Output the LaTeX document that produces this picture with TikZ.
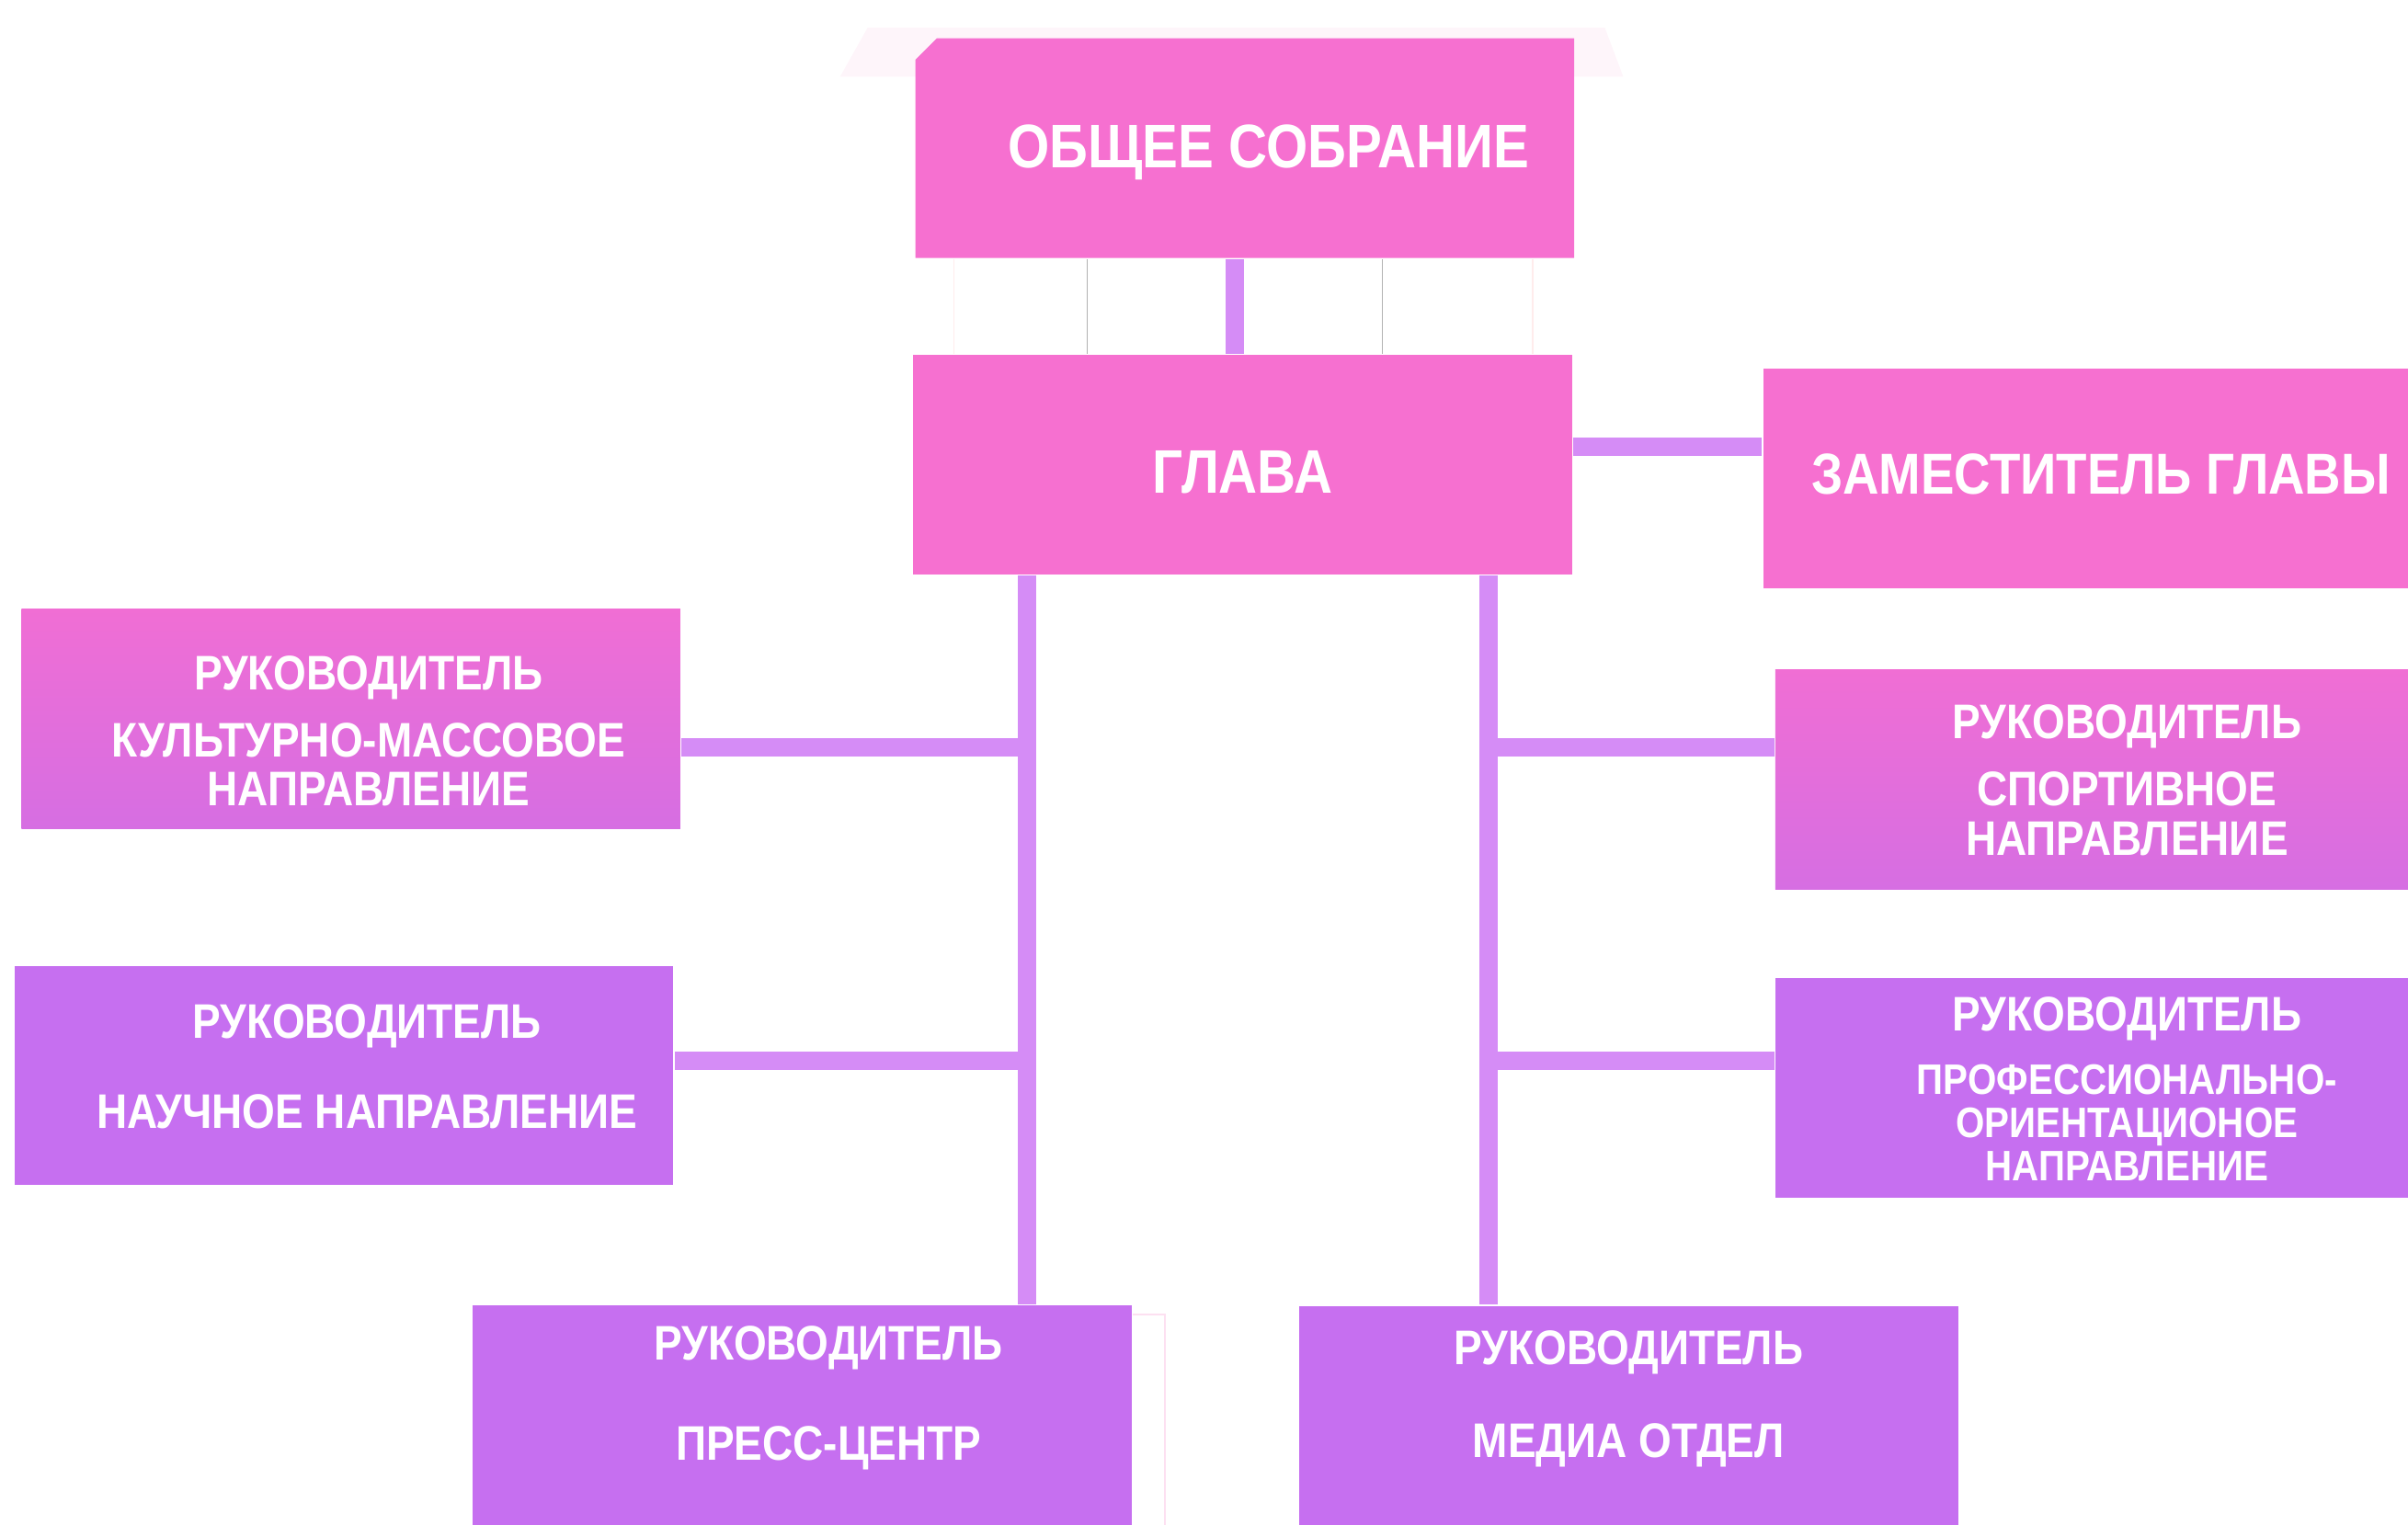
\documentclass[tikz,border=0pt]{standalone}
\usepackage{fontspec}
\setmainfont{Liberation Sans}[FakeStretch=0.87]
\usepackage{tikz}
\usetikzlibrary{shapes.misc}
\definecolor{rosa}{RGB}{246,112,208}
\definecolor{lila}{RGB}{198,111,240}
\definecolor{gradtop}{RGB}{240,110,212}
\definecolor{gradbot}{RGB}{214,110,226}
\definecolor{linkc}{RGB}{213,140,246}
\newcommand{\bigtxt}{\fontsize{11.4}{12}\selectfont\bfseries}
\newcommand{\smtxt}{\fontsize{9}{9.1}\selectfont\bfseries}
\newcommand{\pad}[1]{\hspace*{#1}}

\begin{document}
\begin{tikzpicture}[
  box/.style={align=center, text=white, minimum width=4.29cm, minimum height=1.43cm, inner sep=0pt, text depth=0pt, font=\smtxt},
  rosabox/.style={box, fill=rosa, font=\bigtxt},
  lilabox/.style={box, fill=lila},
  gradbox/.style={box, top color=gradtop, bottom color=gradbot},
  link/.style={draw=linkc, line width=3.4pt},
  hair/.style={very thin, draw=#1}]
\useasboundingbox (0,0) rectangle (15.68,9.93);
\fill[magenta!4] (5.47,9.43) -- (5.65,9.75) -- (10.45,9.75) -- (10.57,9.43) -- cycle;
\node[rosabox, chamfered rectangle, chamfered rectangle corners=north west, chamfered rectangle xsep=0.07cm, chamfered rectangle ysep=0.07cm, text height=0.25cm] (obs) at (8.105,8.965) {\pad{3.1mm}ОБЩЕЕ СОБРАНИЕ};
\node[rosabox, text height=0.37cm] (glava) at (8.09,6.905) {ГЛАВА};
\node[rosabox, minimum width=4.40cm, text height=0.21cm, font=\fontsize{10.7}{12}\selectfont\bfseries] (zam) at (13.68,6.815) {ЗАМЕСТИТЕЛЬ ГЛАВЫ};
\node[gradbox, text height=1.14cm] (km) at (2.285,5.25) {\pad{2.3mm}РУКОВОДИТЕЛЬ\\[3.4pt]\pad{2.3mm}КУЛЬТУРНО-МАССОВОЕ\\\pad{2.3mm}НАПРАВЛЕНИЕ};
\node[lilabox, text height=0.69cm] (nauch) at (2.24,2.925) {\pad{3mm}РУКОВОДИТЕЛЬ\\[7.7pt]\pad{3mm}НАУЧНОЕ НАПРАВЛЕНИЕ};
\node[gradbox, minimum width=4.58cm, text height=0.99cm] (sport) at (13.85,4.855) {РУКОВОДИТЕЛЬ\\[3.4pt]СПОРТИВНОЕ\\НАПРАВЛЕНИЕ};
\node[lilabox, minimum width=4.58cm, text height=1.21cm] (prof) at (13.85,2.845) {РУКОВОДИТЕЛЬ\\[2.6pt]{\fontsize{7.9}{8}\selectfont ПРОФЕССИОНАЛЬНО-}\\[-1.1pt]{\fontsize{7.9}{8}\selectfont ОРИЕНТАЦИОНОЕ}\\[-1.1pt]{\fontsize{7.9}{8}\selectfont НАПРАВЛЕНИЕ}};
\node[lilabox, text height=0.59cm] (press) at (5.225,0.715) {\pad{3.4mm}РУКОВОДИТЕЛЬ\\[9.4pt]\pad{3.4mm}ПРЕСС-ЦЕНТР};
\node[lilabox, text height=0.54cm] (media) at (10.605,0.71) {РУКОВОДИТЕЛЬ\\[8pt]МЕДИА ОТДЕЛ};
% lines between the two top boxes
\foreach \x/\c in {6.21/pink!30, 7.08/gray!60, 9.00/gray!60, 9.98/pink!30}
  \draw[hair=\c] (obs.south -| \x,0) -- (glava.north -| \x,0);
\draw[link] (obs.south -| 8.04,0) -- (glava.north -| 8.04,0);
\draw[link] (glava.east |- 0,7.02) -- (zam.west |- 0,7.02);
% two spines
\draw[link] (glava.south -| 6.69,0) -- (press.north -| 6.69,0);
\draw[link] (glava.south -| 9.69,0) -- (media.north -| 9.69,0);
\coordinate (l1) at (6.69,5.06);
\coordinate (l2) at (6.69,3.02);
\coordinate (r1) at (9.69,5.06);
\coordinate (r2) at (9.69,3.02);
\foreach \a/\b in {l1/km.east, l2/nauch.east, r1/sport.west, r2/prof.west}
  \draw[link] (\a) -- (\a -| \b);
\draw[magenta!12, thin] ([yshift=-0.07cm]press.north east) -- ++(0.21,0) -- ++(0,-1.5);
\end{tikzpicture}
\end{document}
